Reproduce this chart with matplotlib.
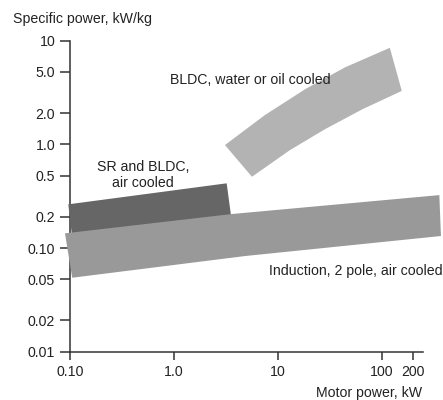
import matplotlib
matplotlib.use("Agg")
import matplotlib.pyplot as plt
from matplotlib.patches import Polygon

plt.rcParams["font.family"] = ["Liberation Sans", "DejaVu Sans"]

# band outlines in data units (kW, kW/kg): upper edge left->right, lower edge left->right
ind_top_x = [0.0895, 3.59, 356]
ind_top_y = [0.1386, 0.2128, 0.324]
ind_bot_x = [0.105, 4.82, 369]
ind_bot_y = [0.0517, 0.0837, 0.1306]

sr_top_x = [0.0963, 3.21]
sr_top_y = [0.264, 0.421]
sr_bot_x = [0.107, 3.69]
sr_bot_y = [0.107, 0.149]

bldc_top_x = [3.09, 7.50, 18.2, 44.1, 119]
bldc_top_y = [0.985, 1.92, 3.40, 5.53, 8.54]
bldc_bot_x = [5.62, 13.0, 28.3, 64.2, 155]
bldc_bot_y = [0.487, 0.879, 1.40, 2.17, 3.28]

x_ticks = [0.1, 1, 10, 100, 200]
x_ticklabels = ["0.10", "1.0", "10", "100", "200"]
y_ticks = [0.01, 0.02, 0.05, 0.1, 0.2, 0.5, 1, 2, 5, 10]
y_ticklabels = ["0.01", "0.02", "0.05", "0.10", "0.2", "0.5", "1.0", "2.0", "5.0", "10"]

fig = plt.figure(figsize=(4.43, 4.0), dpi=100)
ax = fig.add_axes([70 / 443, 1 - 351.7 / 400, 353 / 443, 311 / 400])
ax.set_xscale("log")
ax.set_yscale("log")
ax.set_xlim(0.1, 248)
ax.set_ylim(0.01, 10)


def band(tx, ty, bx, by, color, z):
    pts = list(zip(tx, ty)) + list(zip(bx, by))[::-1]
    ax.add_patch(Polygon(pts, closed=True, facecolor=color, edgecolor="none",
                         zorder=z, clip_on=False))


band(sr_top_x, sr_top_y, sr_bot_x, sr_bot_y, "#666666", 3)
band(ind_top_x, ind_top_y, ind_bot_x, ind_bot_y, "#999999", 4)
band(bldc_top_x, bldc_top_y, bldc_bot_x, bldc_bot_y, "#b3b3b3", 4)

ax.spines["top"].set_visible(False)
ax.spines["right"].set_visible(False)
for s in ("left", "bottom"):
    ax.spines[s].set_linewidth(1.1)
    ax.spines[s].set_color("#333333")

ax.set_xticks(x_ticks)
ax.set_xticklabels(x_ticklabels)
ax.set_yticks(y_ticks)
ax.set_yticklabels(y_ticklabels)
ax.minorticks_off()
ax.tick_params(axis="both", width=1.1, color="#333333",
               labelsize=10.2, labelcolor="#222222")
ax.tick_params(axis="y", length=7.2, pad=3.5)
ax.tick_params(axis="x", length=5.8, pad=4)

txt = dict(fontsize=10.2, color="#222222")
fig.text(13 / 443, 1 - 19.3 / 400, "Specific power, kW/kg", ha="left", va="center", **txt)
fig.text(421.7 / 443, 1 - 392.7 / 400, "Motor power, kW", ha="right", va="center", **txt)
fig.text(170 / 443, 1 - 80 / 400, "BLDC, water or oil cooled", ha="left", va="center", **txt)
fig.text(143 / 443, 1 - 175 / 400, "SR and BLDC,\nair cooled", ha="center", va="center",
         linespacing=1.1, **txt)
fig.text(443 / 443, 1 - 270.7 / 400, "Induction, 2 pole, air cooled", ha="right", va="center", **txt)

fig.savefig("out.png", dpi=100)
